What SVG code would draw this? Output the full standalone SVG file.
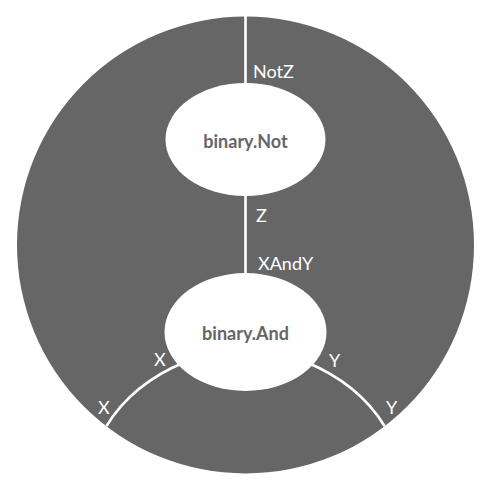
<svg xmlns="http://www.w3.org/2000/svg" width="496" height="498" viewBox="0 0 496 498">
<style>
.wire{fill:none;stroke:#ffffff;stroke-width:2.6}
.node{fill:#ffffff;stroke:none}
.nlabel{font-family:Lato,"Liberation Sans",sans-serif;font-weight:bold;font-size:18px;fill:#666666;text-anchor:middle}
.plabel{font-family:Lato,"Liberation Sans",sans-serif;font-size:18px;fill:#ffffff}
</style>
<g id="outer">
<circle cx="245.5" cy="245" r="228.5" fill="#666666"/>
</g>
<g id="connectors">
<line class="wire" x1="245.5" y1="16" x2="245.5" y2="90"/>
<line class="wire" x1="245.5" y1="190" x2="245.5" y2="280"/>
<path class="wire" d="M185,362 Q132,384 106.5,426"/>
<path class="wire" d="M306,362 Q359,384 384.5,426"/>
</g>
<g id="labels">
<text class="plabel" x="253" y="78">NotZ</text>
<text class="plabel" x="256" y="222">Z</text>
<text class="plabel" x="258" y="270">XAndY</text>
<text class="plabel" x="154" y="366">X</text>
<text class="plabel" x="98" y="414">X</text>
<text class="plabel" x="329" y="367">Y</text>
<text class="plabel" x="386" y="414">Y</text>
</g>
<g id="node-not">
<ellipse class="node" cx="245.5" cy="139.5" rx="80" ry="56.5"/>
<text class="nlabel" x="245.5" y="148">binary.Not</text>
</g>
<g id="node-and">
<ellipse class="node" cx="245.5" cy="332" rx="81" ry="59"/>
<text class="nlabel" x="245.5" y="340">binary.And</text>
</g>
</svg>
